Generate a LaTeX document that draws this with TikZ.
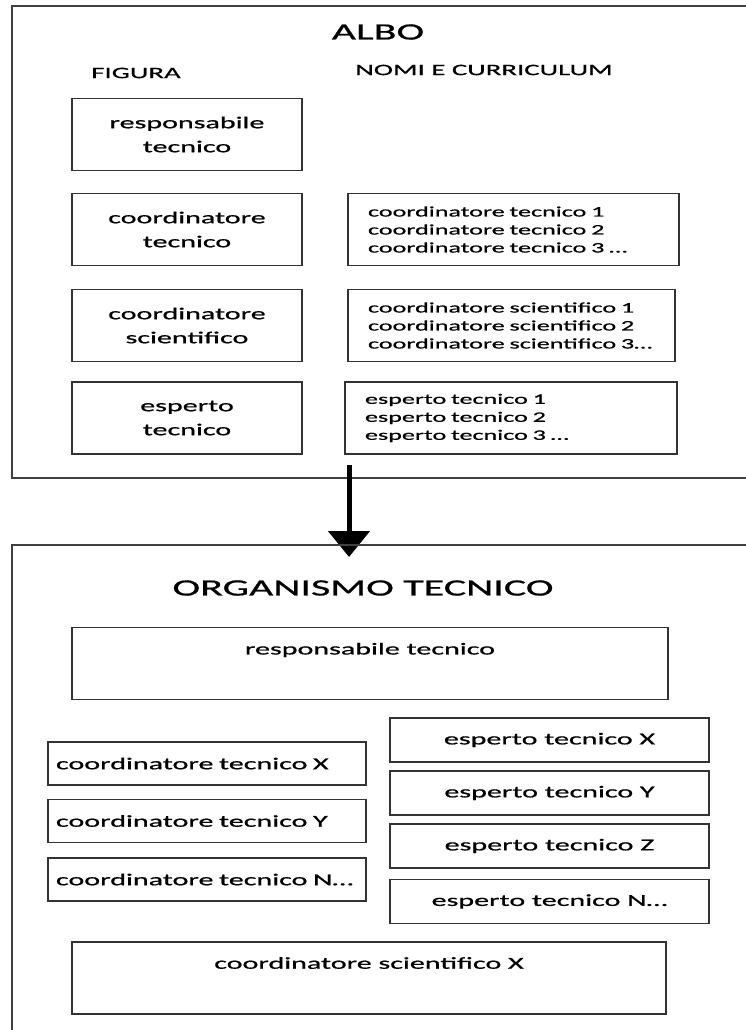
\documentclass[tikz,border=0pt]{standalone}
\usepackage{fontspec}
\setmainfont{Carlito}[FakeStretch=1.8, FakeBold=0.8]
\usetikzlibrary{arrows.meta}

\begin{document}
\begin{tikzpicture}[x=1pt, y=-1pt]
	\tikzstyle{frame} = [draw=black!75, line width=1.4pt]
	\tikzstyle{title} = [inner sep=0pt, font=\fontsize{23.3}{28}\selectfont]
	\tikzstyle{head} = [inner sep=0pt, font=\fontsize{16}{20}\selectfont]
	\tikzstyle{figbox} = [draw=black!80, line width=1.5pt, minimum width=230pt, minimum height=72pt, align=center, font=\fontsize{16.7}{24}\selectfont]
	\tikzstyle{namebox} = [draw=black!80, line width=1.5pt, minimum height=72pt, inner xsep=20pt, align=left, font=\fontsize{14.5}{18}\selectfont]
	\tikzstyle{coordbox} = [draw=black!80, line width=1.5pt, minimum height=43pt, text width=302pt, inner xsep=8pt, align=left, font=\fontsize{16.7}{20}\selectfont]
	\tikzstyle{espbox} = [draw=black!80, line width=1.5pt, minimum width=319pt, minimum height=44pt, align=center, font=\fontsize{16.7}{20}\selectfont]
	\tikzstyle{widebox} = [draw=black!80, line width=1.5pt, minimum height=72pt]
	\tikzstyle{boxtext} = [inner sep=0pt, font=\fontsize{16.7}{20}\selectfont]
	\tikzstyle{edge} = [line width=5pt, -{Triangle[width=41pt, length=26pt]}]

	\useasboundingbox (0,0) rectangle (746,1030);

	% albo
	\draw[frame] (746,6) -- (12,6) -- (12,478) -- (746,478);
	\node[title] (albo) at (378,32) {ALBO};
	\node[head] (figura) at (136,73) {FIGURA};
	\node[head] (nomi) at (484,70) {NOMI E CURRICULUM};

	\foreach \name/\y/\txt in {fresp/134.5/{responsabile\\tecnico}, fctec/229.5/{coordinatore\\tecnico}, fcsci/325.5/{coordinatore\\scientifico}, fesp/418/{esperto\\tecnico}}
		\node[figbox] (\name) at (187,\y) {\txt};

	\node[namebox, text width=291pt] (nctec) at (513.5,229.5) {coordinatore tecnico 1\\coordinatore tecnico 2\\coordinatore tecnico 3 …};
	\node[namebox, text width=287pt] (ncsci) at (511.5,325.5) {coordinatore scientifico 1\\coordinatore scientifico 2\\coordinatore scientifico 3…};
	\node[namebox, text width=292pt] (nesp) at (511,418) {esperto tecnico 1\\esperto tecnico 2\\esperto tecnico 3 …};

	% passaggio
	\coordinate (from) at (349,465);
	\coordinate (to) at (349,557);
	\draw[edge] (from) -- (to);

	% organismo
	\draw[frame] (746,545) -- (12,545) -- (12,1030);
	\node[title] (org) at (363,588) {ORGANISMO TECNICO};

	\node[widebox, minimum width=596pt] (oresp) at (370,663.5) {};
	\node[boxtext] (oresptxt) at (370,650) {responsabile tecnico};

	\foreach \name/\y/\txt in {octx/763.5/X, octy/821/Y, octn/879.5/N…}
		\node[coordbox] (\name) at (207,\y) {coordinatore tecnico \txt};

	\foreach \name/\y/\txt in {oespx/740/X, oespy/793/Y, oespz/846/Z, oespn/901.5/N…}
		\node[espbox] (\name) at (549.5,\y) {esperto tecnico \txt};

	\node[widebox, minimum width=594pt] (ocsci) at (369,978) {};
	\node[boxtext] (ocscitxt) at (369,963) {coordinatore scientifico X};
\end{tikzpicture}
\end{document}
